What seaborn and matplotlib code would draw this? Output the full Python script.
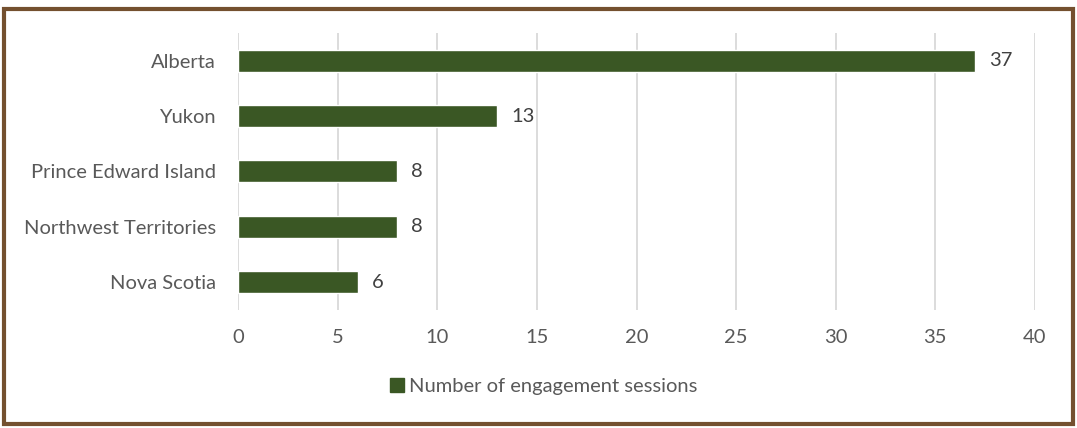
import pandas as pd
import matplotlib.pyplot as plt
import matplotlib.patches as mpatches
import seaborn as sns

# Data
provinces = ['Alberta', 'Yukon', 'Prince Edward Island', 'Northwest Territories', 'Nova Scotia']
sessions = [37, 13, 8, 8, 6]
series_label = 'Number of engagement sessions'
x_ticks = [0, 5, 10, 15, 20, 25, 30, 35, 40]

sns.set_theme(style="white")
plt.rcParams['font.family'] = ['Lato', 'DejaVu Sans']

BAR_COLOR = '#3A5724'
TEXT_COLOR = '#595959'
GRID_COLOR = '#D9D9D9'
BORDER_COLOR = '#74502F'
FS = 14.5

df = pd.DataFrame({'Province': provinces, 'Sessions': sessions})

fig = plt.figure(figsize=(10.77, 4.28), dpi=100)
ax = fig.add_axes([0.221, 0.276, 0.740, 0.647])

sns.barplot(data=df, x='Sessions', y='Province', orient='h', color=BAR_COLOR,
            width=0.4, saturation=1, ax=ax, label=series_label)

for i, v in enumerate(sessions):
    ax.text(v + 0.7, i, str(v), va='center', ha='left', fontsize=FS, color='#404040')

ax.set_xlim(0, 40)
ax.set_ylim(4.5, -0.5)
ax.set_xticks(x_ticks)
ax.xaxis.grid(True, color=GRID_COLOR, linewidth=1.3)
ax.set_axisbelow(True)
ax.set_xlabel('')
ax.set_ylabel('')
for s in ax.spines.values():
    s.set_visible(False)
ax.tick_params(axis='x', colors=TEXT_COLOR, labelsize=FS, length=0, pad=14)
ax.tick_params(axis='y', colors=TEXT_COLOR, labelsize=FS, length=0, pad=16)
for lbl in ax.get_xticklabels() + ax.get_yticklabels():
    lbl.set_color(TEXT_COLOR)

handle = mpatches.Patch(color=BAR_COLOR, label=series_label)
leg = fig.legend(handles=[handle], loc='center', bbox_to_anchor=(0.505, 0.098),
                 frameon=False, fontsize=FS, handlelength=0.7, handleheight=0.7,
                 handletextpad=0.25)
for t in leg.get_texts():
    t.set_color(TEXT_COLOR)
if ax.get_legend() is not None:
    ax.get_legend().remove()

# outer brown frame
fig.patches.append(mpatches.Rectangle((0.004, 0.01), 0.992, 0.97, transform=fig.transFigure,
                                      fill=False, edgecolor=BORDER_COLOR, linewidth=3))

fig.savefig('out.png', dpi=100, facecolor='white')
